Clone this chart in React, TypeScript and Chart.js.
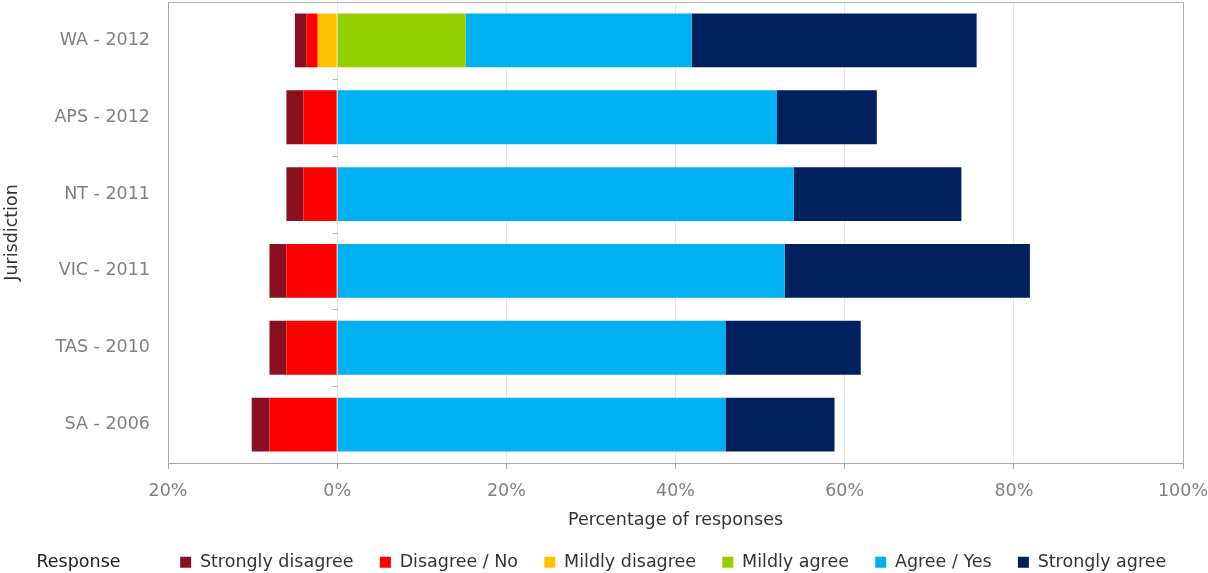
import React, { useEffect, useRef } from "react";
import { Chart, registerables } from "chart.js";

Chart.register(...registerables);

const categories = ["WA - 2012", "APS - 2012", "NT - 2011", "VIC - 2011", "TAS - 2010", "SA - 2006"];
const stronglyDisagree = [-1.4, -2.0, -2.0, -2.0, -2.0, -2.1];
const disagreeNo = [-1.3, -4.0, -4.0, -6.0, -6.0, -8.0];
const mildlyDisagree = [-2.3, 0, 0, 0, 0, 0];
const mildlyAgree = [15.2, 0, 0, 0, 0, 0];
const agreeYes = [26.7, 52.0, 54.0, 52.9, 45.9, 45.9];
const stronglyAgree = [33.7, 11.8, 19.8, 29.0, 16.0, 12.9];
const xTicks = [-20, 0, 20, 40, 60, 80, 100];

const legendOrder = ["Strongly disagree", "Disagree / No", "Mildly disagree", "Mildly agree", "Agree / Yes", "Strongly agree"];

const FONT = "'DejaVu Sans', sans-serif";
const FS = 17.5;

const framePlugin = {
  id: "frame",
  afterDraw(chart: any) {
    const { ctx, chartArea } = chart;
    const xs = chart.scales.x;
    const ys = chart.scales.y;
    ctx.save();
    ctx.strokeStyle = "#b0b0b0";
    ctx.lineWidth = 1;
    ctx.beginPath();
    ctx.moveTo(chartArea.left, Math.round(chartArea.top) + 0.5);
    ctx.lineTo(Math.round(chartArea.right) + 0.5, Math.round(chartArea.top) + 0.5);
    ctx.lineTo(Math.round(chartArea.right) + 0.5, chartArea.bottom);
    ctx.stroke();
    const x0 = Math.round(xs.getPixelForValue(0)) + 0.5;
    const n = ys.ticks.length;
    const step = (chartArea.bottom - chartArea.top) / n;
    ctx.beginPath();
    for (let i = 1; i < n; i++) {
      const y = Math.round(chartArea.top + step * i) + 0.5;
      ctx.moveTo(x0 - 5, y);
      ctx.lineTo(x0, y);
    }
    ctx.stroke();
    ctx.restore();
  },
};

export default function App() {
  const ref = useRef<HTMLCanvasElement | null>(null);
  useEffect(() => {
    if (!ref.current) return;
    const chart = new Chart(ref.current, {
      type: "bar",
      data: {
        labels: categories,
        datasets: [
          { label: "Mildly disagree", data: mildlyDisagree, backgroundColor: "#FFC000" },
          { label: "Disagree / No", data: disagreeNo, backgroundColor: "#FF0000" },
          { label: "Strongly disagree", data: stronglyDisagree, backgroundColor: "#8A1020" },
          { label: "Mildly agree", data: mildlyAgree, backgroundColor: "#92D000" },
          { label: "Agree / Yes", data: agreeYes, backgroundColor: "#00B0F0" },
          { label: "Strongly agree", data: stronglyAgree, backgroundColor: "#00205E" },
        ],
      },
      options: {
        indexAxis: "y",
        animation: false,
        responsive: true,
        maintainAspectRatio: false,
        datasets: { bar: { categoryPercentage: 0.7, barPercentage: 1.0 } },
        layout: { padding: { top: 2, right: 25, left: 0, bottom: -8 } },
        scales: {
          x: {
            stacked: true,
            min: -20,
            max: 100,
            afterBuildTicks(scale: any) {
              scale.ticks = xTicks.map((v) => ({ value: v }));
            },
            afterFit(scale: any) {
              scale.height = 86.5;
              scale.paddingLeft = 0;
              scale.paddingRight = 0;
            },
            grid: { color: "#e6e6e6", tickColor: "#a8a8a8", tickLength: 6 },
            border: { color: "#a8a8a8" },
            ticks: {
              padding: 12,
              color: "#808080",
              font: { family: FONT, size: FS },
              callback: (v: any) => Math.abs(Number(v)) + "%",
            },
            title: {
              display: true,
              text: "Percentage of responses",
              color: "#333333",
              font: { family: FONT, size: FS },
              padding: { top: 4, bottom: 19 },
            },
          },
          y: {
            stacked: true,
            afterFit(scale: any) {
              scale.width = 168;
              scale.paddingTop = 0;
              scale.paddingBottom = 0;
            },
            grid: { display: false, drawTicks: false },
            border: { color: "#a8a8a8" },
            ticks: { padding: 18, color: "#808080", font: { family: FONT, size: FS } },
            title: {
              display: true,
              text: "Jurisdiction",
              color: "#333333",
              font: { family: FONT, size: FS },
              padding: { top: 2, bottom: 2 },
            },
          },
        },
        plugins: {
          tooltip: { enabled: false },
          legend: {
            position: "bottom",
            onClick: () => {},
            labels: {
              boxWidth: 11,
              boxHeight: 11,
              padding: 4,
              color: "#333333",
              font: { family: FONT, size: FS },
              generateLabels(chart: any) {
                const items = Chart.defaults.plugins.legend.labels.generateLabels(chart);
                items.forEach((it: any) => {
                  it.lineWidth = 0;
                  it.strokeStyle = "rgba(0,0,0,0)";
                });
                items.sort((a: any, b: any) => legendOrder.indexOf(a.text) - legendOrder.indexOf(b.text));
                items.forEach((it: any, i: number) => {
                  if (i < items.length - 1) it.text = it.text + "    ";
                });
                return [
                  {
                    text: "Response          ",
                    fillStyle: "rgba(0,0,0,0)",
                    strokeStyle: "rgba(0,0,0,0)",
                    lineWidth: 0,
                    hidden: false,
                    fontColor: "#222222",
                  } as any,
                  ...items,
                ];
              },
            },
          },
        },
      },
      plugins: [framePlugin],
    } as any);
    return () => chart.destroy();
  }, []);
  return (
    <div style={{ position: "absolute", left: 0, top: 0, width: 1208, height: 573, background: "#fff" }}>
      <canvas ref={ref} />
    </div>
  );
}
